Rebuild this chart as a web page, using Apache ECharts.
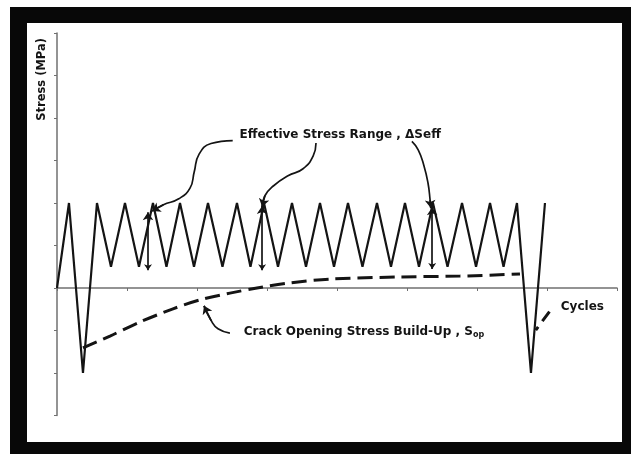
<!DOCTYPE html>
<html>
<head>
<meta charset="utf-8">
<script src="https://cdn.jsdelivr.net/npm/echarts@6/dist/echarts.min.js"></script>
<style>
html,body{margin:0;padding:0;background:#fff;}
#frameOuter{position:absolute;left:10px;top:7px;width:621px;height:447px;background:#080808;}
#frameInner{position:absolute;left:27px;top:23px;width:595px;height:419px;background:#fff;}
#chart{position:absolute;left:0;top:0;width:631px;height:458px;}
</style>
</head>
<body>
<div id="frameOuter"></div>
<div id="frameInner"></div>
<div id="chart"></div>
<script>
// ---- data (x in axis units, y = stress) ----
const cycleX = [0,0.171,0.371,0.571,0.771,0.971,1.171,1.371,1.564,1.757,1.957,2.157,2.364,2.571,2.764,2.957,3.157,3.357,3.557,3.757,3.957,4.157,4.364,4.571,4.771,4.971,5.171,5.371,5.579,5.786,5.986,6.186,6.379,6.571,6.771,6.971];
const stress = [0,2.0,-2.0,2.0,0.5,2.0,0.5,2.0,0.5,2.0,0.5,2.0,0.5,2.0,0.5,2.0,0.5,2.0,0.5,2.0,0.5,2.0,0.5,2.0,0.5,2.0,0.5,2.0,0.5,2.0,0.5,2.0,0.5,2.0,-2.0,2.0];

const sopX = [0.371,0.757,1.186,1.657,2.043,2.471,2.857,3.329,3.9,4.9,5.757,6.614];
const sopY = [-1.41,-1.13,-0.8,-0.49,-0.28,-0.12,0,0.12,0.21,0.26,0.28,0.33];
const sop2X = [6.84,7.06];
const sop2Y = [-0.99,-0.5];

const leader1X = [2.51,2.2,2.03,1.96,1.9,1.74,1.52,1.36];
const leader1Y = [3.47,3.4,3.15,2.73,2.35,2.1,1.96,1.81];
const leader2X = [3.7,3.66,3.51,3.3,3.09,2.97,2.93];
const leader2Y = [3.41,3.11,2.8,2.64,2.4,2.17,1.91];
const leader3X = [5.07,5.16,5.24,5.3,5.33,5.34];
const leader3Y = [3.45,3.25,2.89,2.47,2.07,1.88];
const leader4X = [2.47,2.3,2.2,2.1];
const leader4Y = [-1.06,-0.96,-0.76,-0.42];

const rangeX = [1.3,2.93,5.36];
const rangeTop = [1.78,1.93,1.9];
const rangeBottom = [0.42,0.42,0.45];

const labelText = ['Effective Stress Range , \u0394Seff', 'Crack Opening Stress Build-Up , S', 'Cycles'];
const labelX = [2.6, 2.66, 7.19];
const labelY = [3.6, -1.04, -0.45];
const yAxisTitle = 'Stress (MPa)';

const ink = '#141414';
const axisGray = '#707070';
const FONT = 'DejaVu Sans';

const zip = (xs, ys) => xs.map((x, i) => [x, ys[i]]);
const leaders = [[leader1X, leader1Y], [leader2X, leader2Y], [leader3X, leader3Y], [leader4X, leader4Y]];

const leaderSeries = leaders.map(([xs, ys]) => ({
  type: 'line', data: zip(xs, ys), smooth: 0.5, showSymbol: false, silent: true,
  lineStyle: { color: ink, width: 1.7 }, z: 4
}));

const arrowHeads = leaders.map(([xs, ys]) => {
  const n = xs.length;
  return { coords: [[xs[n - 2], ys[n - 2]], [xs[n - 1], ys[n - 1]]] };
});

const rangeArrows = rangeX.map((x, i) => ({ coords: [[x, rangeBottom[i]], [x, rangeTop[i]]] }));

const chart = echarts.init(document.getElementById('chart'), null, { renderer: 'canvas' });
chart.setOption({
  animation: false,
  backgroundColor: 'transparent',
  grid: { left: 57, right: 14, top: 33, bottom: 42.5 },
  xAxis: {
    type: 'value', min: 0, max: 8, interval: 1,
    axisLine: { onZero: true, lineStyle: { color: axisGray, width: 1.5 } },
    axisTick: { show: true, length: 3, lineStyle: { color: axisGray, width: 1 } },
    axisLabel: { show: false }, splitLine: { show: false }
  },
  yAxis: {
    type: 'value', min: -3, max: 6, interval: 1,
    axisLine: { show: true, onZero: false, lineStyle: { color: axisGray, width: 1.5 } },
    axisTick: { show: true, length: 3, lineStyle: { color: axisGray, width: 1 } },
    axisLabel: { show: false }, splitLine: { show: false }
  },
  graphic: [{
    type: 'text', left: 36, top: 38, rotation: Math.PI / 2, originX: 0, originY: 0,
    style: { text: yAxisTitle, fill: ink, font: 'bold 11.5px "' + FONT + '"' }
  }],
  series: [
    {
      type: 'line', data: zip(cycleX, stress), showSymbol: false, silent: true,
      lineStyle: { color: ink, width: 2.2 }, z: 3
    },
    {
      type: 'line', data: zip(sopX, sopY), smooth: 0.3, showSymbol: false, silent: true,
      lineStyle: { color: ink, width: 3, type: [15, 7] }, z: 3
    },
    {
      type: 'line', data: zip(sop2X, sop2Y), showSymbol: false, silent: true,
      lineStyle: { color: ink, width: 3, type: [4, 7, 12, 30] }, z: 3
    },
    ...leaderSeries,
    {
      type: 'lines', coordinateSystem: 'cartesian2d', silent: true,
      symbol: ['none', 'arrow'], symbolSize: [6, 8],
      lineStyle: { color: ink, width: 1.7, opacity: 1, curveness: 0 },
      data: arrowHeads, z: 5
    },
    {
      type: 'lines', coordinateSystem: 'cartesian2d', silent: true,
      symbol: ['arrow', 'arrow'], symbolSize: [6, 8],
      lineStyle: { color: ink, width: 1.7, opacity: 1, curveness: 0 },
      data: rangeArrows, z: 5
    },
    {
      type: 'scatter', silent: true, symbolSize: 1,
      itemStyle: { color: 'rgba(0,0,0,0)', opacity: 1 },
      data: labelX.map((x, i) => ({ value: [x, labelY[i]], name: labelText[i] })),
      label: {
        show: true, position: 'right', distance: 0, color: ink, opacity: 1,
        fontFamily: FONT, fontWeight: 'bold', fontSize: 12, textBorderWidth: 0,
        formatter: p => p.dataIndex === 1 ? '{a|' + p.name + '}{b|op}' : '{a|' + p.name + '}',
        rich: {
          a: { fontFamily: FONT, fontWeight: 'bold', fontSize: 12, color: ink, lineHeight: 14 },
          b: { fontFamily: FONT, fontWeight: 'bold', fontSize: 8, color: ink, lineHeight: 8, verticalAlign: 'bottom', padding: [6, 0, 0, 0] }
        }
      },
      z: 6
    }
  ]
});
</script>
</body>
</html>
